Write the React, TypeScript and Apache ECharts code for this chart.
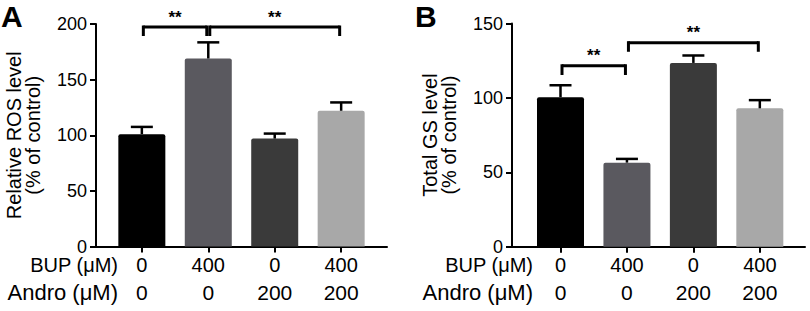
import React, { useEffect, useRef } from 'react';
import * as echarts from 'echarts';

// ---------- data ----------
const categoryIndex = [0, 1, 2, 3];
const bupLabels = ['0', '400', '0', '400'];
const androLabels = ['0', '0', '200', '200'];
const barColors = ['#000000', '#5a595f', '#3a3a3a', '#a8a8a8'];

const rosMean = [101, 169, 97, 122];
const rosUpper = [107.5, 183.5, 101.5, 129.5];
const gsMean = [100.5, 56.5, 123.5, 93];
const gsUpper = [108.5, 59, 128.5, 98.5];

// [fromIndex, toIndex, bracketTop, bracketEnds]
const rosBrackets = [
  [0, 1, 197.3, 189.2],
  [1, 3, 197.3, 189.2],
];
const gsBrackets = [
  [0, 1, 121.6, 115.4],
  [1, 3, 137.1, 131.0],
];
const sigLabel = '**';

const rosTitle = 'Relative ROS level\n(% of control)';
const gsTitle = 'Total GS level\n(% of control)';
const bupHeader = 'BUP (\u03bcM)';
const androHeader = 'Andro (\u03bcM)';

const FONT = '"Liberation Sans", Arial, Helvetica, sans-serif';

function makeXAxis(gridIndex: number, min: number, max: number) {
  return {
    type: 'value',
    gridIndex,
    min,
    max,
    splitLine: { show: false },
    axisLine: { show: true, onZero: false, lineStyle: { color: '#000', width: 2 } },
    axisTick: {
      show: true,
      customValues: categoryIndex,
      length: 6,
      lineStyle: { color: '#000', width: 2 },
    },
    axisLabel: {
      show: true,
      customValues: categoryIndex,
      margin: 4,
      formatter: (v: number) => `{a|${bupLabels[v]}}\n{b|${androLabels[v]}}`,
      rich: {
        a: { fontSize: 20, lineHeight: 28, color: '#000', fontFamily: FONT },
        b: { fontSize: 21, lineHeight: 28, color: '#000', fontFamily: FONT },
      },
    },
  };
}

function makeYAxis(gridIndex: number, max: number, name: string) {
  return {
    type: 'value',
    gridIndex,
    min: 0,
    max,
    interval: 50,
    name,
    nameLocation: 'middle',
    nameGap: 54,
    nameTextStyle: { fontSize: 20, lineHeight: 19, color: '#000', fontFamily: FONT },
    splitLine: { show: false },
    axisLine: { show: true, onZero: false, lineStyle: { color: '#000', width: 2 } },
    axisTick: { show: true, length: 6, lineStyle: { color: '#000', width: 2 } },
    axisLabel: { fontSize: 18, color: '#000', margin: 9, fontFamily: FONT },
  };
}

function barSeries(idx: number, values: number[]) {
  return {
    type: 'bar',
    xAxisIndex: idx,
    yAxisIndex: idx,
    barWidth: 47,
    data: values.map((v, i) => ({
      value: [categoryIndex[i], v],
      itemStyle: { color: barColors[i], borderRadius: [2, 2, 0, 0] },
    })),
    z: 2,
  };
}

function errorSeries(idx: number, mean: number[], upper: number[]) {
  return {
    type: 'custom',
    xAxisIndex: idx,
    yAxisIndex: idx,
    z: 3,
    clip: false,
    data: mean.map((m, i) => [categoryIndex[i], m]),
    renderItem: (params: any, api: any) => {
      const i = params.dataIndex;
      const x = categoryIndex[i];
      const p0 = api.coord([x, mean[i]]);
      const p1 = api.coord([x, upper[i]]);
      return {
        type: 'group',
        children: [
          { type: 'line', shape: { x1: p0[0], y1: p0[1], x2: p1[0], y2: p1[1] }, style: { stroke: '#000', lineWidth: 2.5 } },
          { type: 'line', shape: { x1: p1[0] - 11, y1: p1[1], x2: p1[0] + 11, y2: p1[1] }, style: { stroke: '#000', lineWidth: 2.5 } },
        ],
      };
    },
  };
}

function bracketSeries(idx: number, brackets: number[][]) {
  return {
    type: 'custom',
    xAxisIndex: idx,
    yAxisIndex: idx,
    z: 4,
    clip: false,
    data: brackets.map((b) => [b[0], b[2]]),
    renderItem: (params: any, api: any) => {
      const br = brackets[params.dataIndex];
      const a = api.coord([br[0], br[2]]);
      const b = api.coord([br[1], br[2]]);
      const e = api.coord([br[0], br[3]]);
      const xa = a[0] + 1.5;
      const xb = b[0] - 1.5;
      const st = { stroke: '#000', lineWidth: 3 };
      return {
        type: 'group',
        children: [
          { type: 'line', shape: { x1: xa, y1: e[1], x2: xa, y2: a[1] - 1.5 }, style: st },
          { type: 'line', shape: { x1: xa, y1: a[1], x2: xb, y2: a[1] }, style: st },
          { type: 'line', shape: { x1: xb, y1: a[1] - 1.5, x2: xb, y2: e[1] }, style: st },
          {
            type: 'text',
            x: (xa + xb) / 2,
            y: a[1] - 10,
            style: {
              text: sigLabel,
              fontSize: 17,
              fontWeight: 'bold',
              fill: '#000',
              align: 'center',
              verticalAlign: 'middle',
              fontFamily: FONT,
            },
          },
        ],
      };
    },
  };
}

function headerText(x: number, y: number, text: string, size: number) {
  return {
    type: 'text',
    x,
    y,
    style: { text, fontSize: size, lineHeight: size - 5, fill: '#000', align: 'right', verticalAlign: 'middle', fontFamily: FONT },
  };
}

export default function App() {
  const ref = useRef<HTMLDivElement>(null);
  useEffect(() => {
    if (!ref.current) return;
    const chart = echarts.init(ref.current, undefined, { renderer: 'svg' });
    chart.setOption({
      animation: false,
      backgroundColor: '#ffffff',
      grid: [
        { left: 96, top: 24, width: 291, height: 222.5 },
        { left: 512, top: 23.5, width: 293, height: 223.2 },
      ],
      xAxis: [makeXAxis(0, -0.69, 3.69), makeXAxis(1, -0.73, 3.68)],
      yAxis: [makeYAxis(0, 200, rosTitle), makeYAxis(1, 150, gsTitle)],
      series: [
        barSeries(0, rosMean),
        errorSeries(0, rosMean, rosUpper),
        bracketSeries(0, rosBrackets),
        barSeries(1, gsMean),
        errorSeries(1, gsMean, gsUpper),
        bracketSeries(1, gsBrackets),
      ],
      graphic: [
        { type: 'text', x: 1, y: 16, style: { text: 'A', fontSize: 30, fontWeight: 'bold', fill: '#000', verticalAlign: 'middle', fontFamily: FONT } },
        { type: 'text', x: 415, y: 16, style: { text: 'B', fontSize: 30, fontWeight: 'bold', fill: '#000', verticalAlign: 'middle', fontFamily: FONT } },
        headerText(118, 265, bupHeader, 20),
        headerText(118, 292, androHeader, 22),
        headerText(533, 265, bupHeader, 20),
        headerText(533, 292, androHeader, 22),
      ],
    });
    return () => chart.dispose();
  }, []);
  return <div ref={ref} style={{ position: 'absolute', left: 0, top: 0, width: 810, height: 311 }} />;
}
